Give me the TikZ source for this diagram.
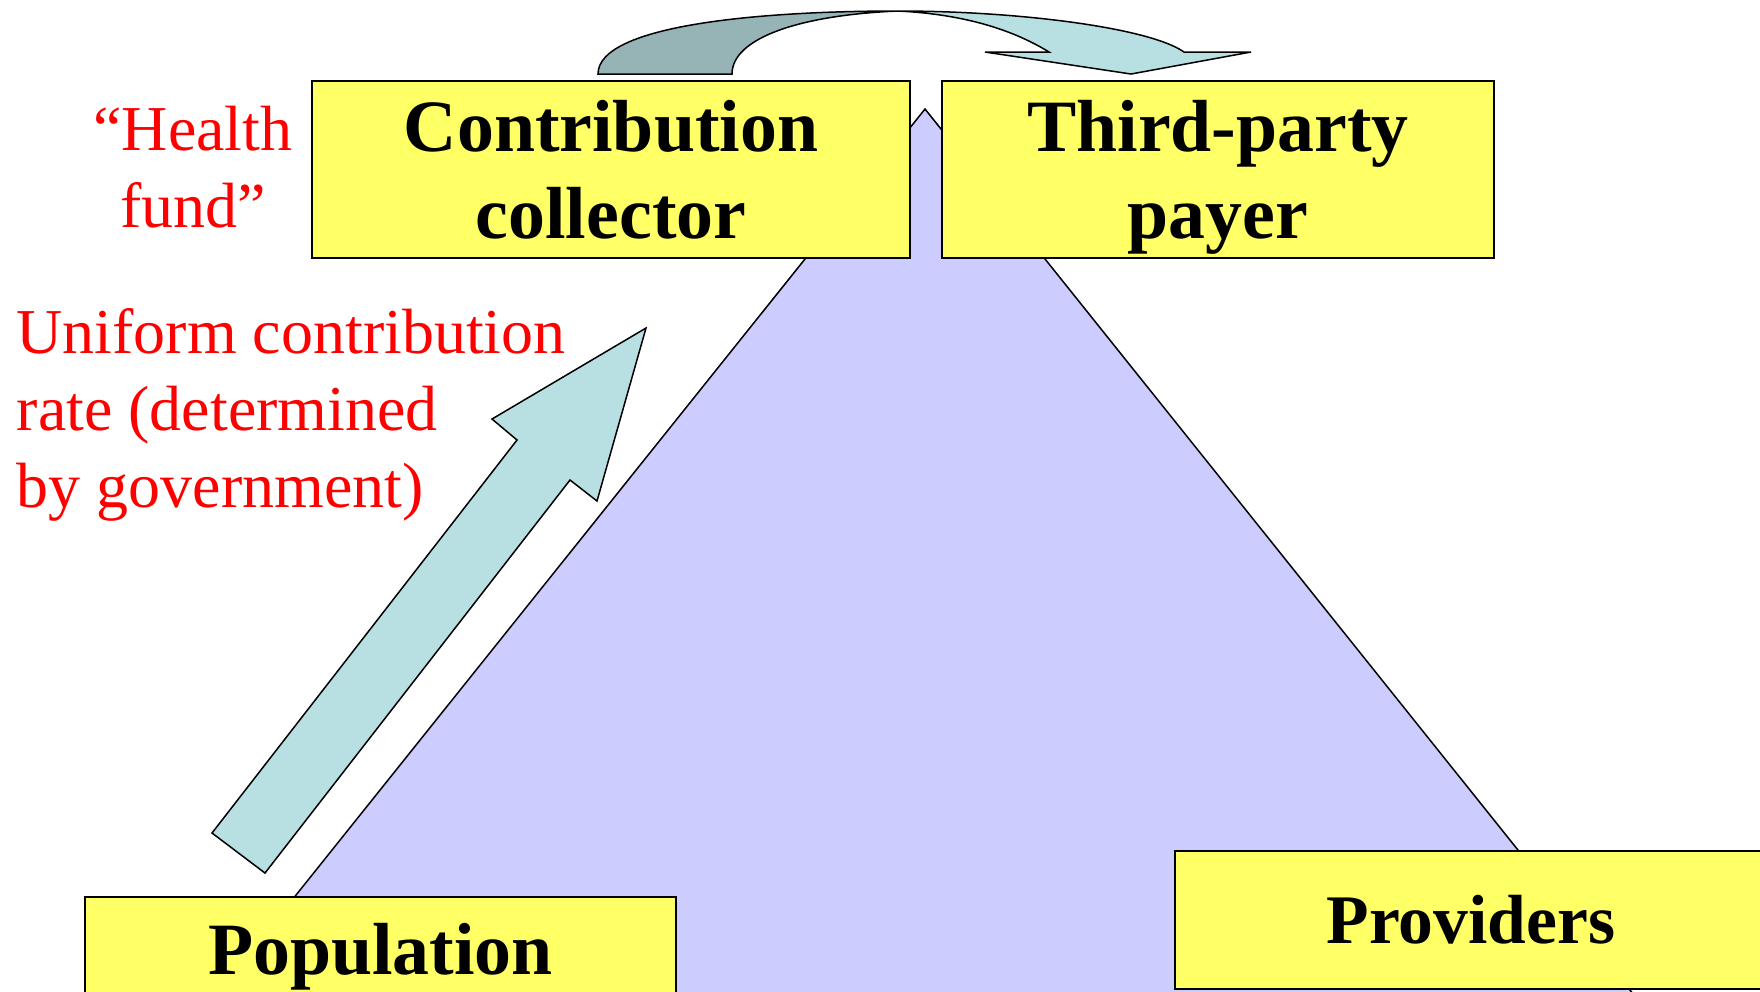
\documentclass[tikz,border=0pt]{standalone}
\usepackage{fontspec}
\setmainfont{Liberation Serif}
\definecolor{boxyellow}{HTML}{FFFF66}
\definecolor{tri}{HTML}{CCCCFF}
\definecolor{arrowlight}{HTML}{B8DFE2}
\definecolor{arrowdark}{HTML}{96B3B6}
\begin{document}
\begin{tikzpicture}[x=0.1mm,y=-0.1mm,
party/.style={%
draw,
line width=0.2mm,
fill=boxyellow,
anchor=north west,
inner sep=0pt,
font=\fontsize{21}{24.9}\selectfont\bfseries
},
note/.style={%
text=red,
inner sep=0pt,
font=\fontsize{18.2}{21.9}\selectfont
},
flow/.style={%
draw,
line width=0.15mm,
line join=miter
},
]
\useasboundingbox(0,0)rectangle(1760,991);
\clip(0,0)rectangle(1760,991);
%% Triangle
\path[draw,line width=0.15mm,fill=tri](925,109)--(132,1100)--(1718,1100)--cycle;
%% Boxes
\node[party,align=center,text depth=0pt,minimum width=59.8mm,minimum height=17.7mm](collector)at(311,80){Contribution\\collector};
\node[party,align=center,text depth=0pt,minimum width=55.2mm,minimum height=17.7mm](payer)at(941,80){Third-party\\payer};
\node[party,minimum width=59.1mm,minimum height=11.9mm](population)at(84,896){Population};
\node[party,minimum width=59.2mm,minimum height=13.8mm,font=\fontsize{19.8}{23}\selectfont\bfseries](providers)at(1174,850){Providers};
%% Notes
\node[note,align=center,anchor=base](fund)at(193,227){“Health\\fund”};
\node[note,align=left,anchor=base west](rate)at(16,507){Uniform contribution\\rate (determined\\by government)};
%% Arrows
\path[flow,fill=arrowdark](598,74)..controls(598,25)and(760,11)..(898,11)..controls(800,15)and(732,38)..(732,74)--cycle;
\path[flow,fill=arrowlight](898,11)..controls(1020,11)and(1150,28)..(1184,52)--(1251,52)--(1131,74)--(985,52)--(1049,52)..controls(1010,28)and(960,14)..(898,11)--cycle;
\path[flow,fill=arrowlight](212,833)--(517,440)--(492,419)--(646,328)--(597,501)--(570,480)--(265,873)--cycle;
\end{tikzpicture}
\end{document}
